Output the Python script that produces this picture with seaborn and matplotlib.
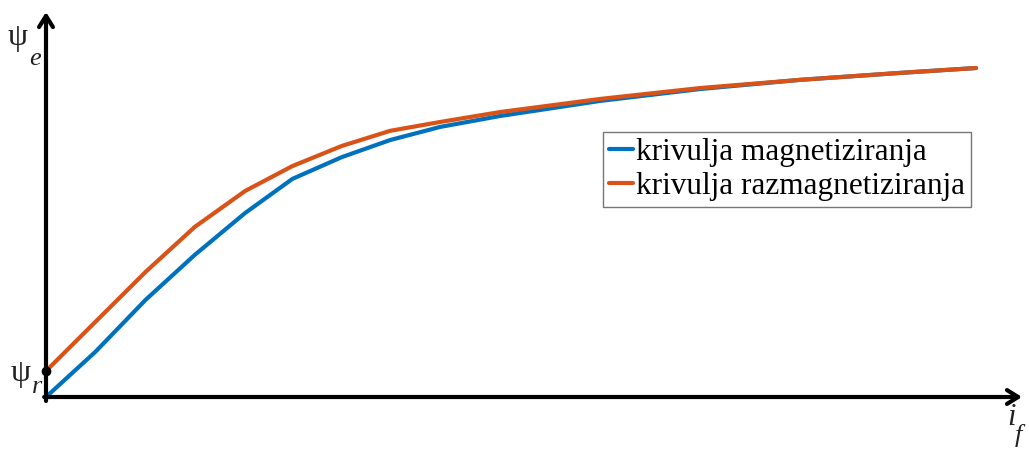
import matplotlib
matplotlib.use("Agg")
import matplotlib.pyplot as plt
import seaborn as sns
import pandas as pd

# data (arbitrary units)
i_f = [0, 0.53, 1.07, 1.6, 2.14, 2.65, 3.18, 3.7, 4.24, 4.88, 5.96, 7.03, 8.11, 9.18, 10.0]
psi_mag = [0, 0.137, 0.295, 0.432, 0.559, 0.663, 0.729, 0.781, 0.821, 0.854, 0.900, 0.936, 0.964, 0.985, 1.0]
psi_razmag = [0.079, 0.228, 0.380, 0.517, 0.626, 0.702, 0.763, 0.809, 0.836, 0.866, 0.906, 0.939, 0.964, 0.985, 1.0]
series_names = ["krivulja magnetiziranja", "krivulja razmagnetiziranja"]
colors = ["#0072BD", "#D95319"]

sns.set_style("white")
plt.rcParams['font.family'] = ['Liberation Serif', 'DejaVu Serif']
plt.rcParams['text.color'] = 'black'

df = pd.concat([
    pd.DataFrame({"i_f": i_f, "psi": psi_mag, "krivulja": series_names[0]}),
    pd.DataFrame({"i_f": i_f, "psi": psi_razmag, "krivulja": series_names[1]}),
])

W, H = 1029, 449
fig = plt.figure(figsize=(W / 100, H / 100), dpi=100)
ox, oy = 46, 397
ax = fig.add_axes([ox / W, (H - oy) / H, (1022 - ox) / W, (oy - 12) / H])
xmax = (1022 - ox) / 93.0
ymax = (oy - 12) / 329.0
ax.set_xlim(0, xmax)
ax.set_ylim(0, ymax)

sns.lineplot(data=df, x="i_f", y="psi", hue="krivulja", palette=colors,
             linewidth=3.0, ax=ax, sort=False, zorder=3)

for s in ax.spines.values():
    s.set_visible(False)
ax.set_xticks([])
ax.set_yticks([])
ax.set_xlabel("")
ax.set_ylabel("")

# axes arrows
arrow = dict(arrowstyle="->,head_length=0.8,head_width=0.5", lw=3.0, color="black",
             shrinkA=0, shrinkB=0)
ax.annotate("", xy=(xmax, 0), xytext=(-0.02, 0), arrowprops=arrow, annotation_clip=False)
ax.annotate("", xy=(0, ymax), xytext=(0, -0.012), arrowprops=arrow, annotation_clip=False)

ax.plot([0], [psi_razmag[0]], "o", color="black", ms=6, zorder=5, clip_on=False)

# labels
fig.text(8 / W, 1 - 45 / H, "ψ", fontsize=23, ha="left", va="baseline", color="#222222")
fig.text(29 / W, 1 - 65 / H, "e", fontsize=19, style="italic", ha="left", va="baseline", color="#222222")
fig.text(11 / W, 1 - 381 / H, "ψ", fontsize=23, ha="left", va="baseline", color="#222222")
fig.text(32 / W, 1 - 393 / H, "r", fontsize=19, style="italic", ha="left", va="baseline", color="#222222")
fig.text(1007 / W, 1 - 425 / H, "i", fontsize=22, style="italic", ha="left", va="baseline", color="#222222")
fig.text(1015 / W, 1 - 442 / H, "f", fontsize=19, style="italic", ha="left", va="baseline", color="#222222")

leg = ax.legend(loc="upper left", bbox_to_anchor=((603 - ox) / (1022 - ox), 1 - (132 - 12) / (oy - 12)),
                fontsize=22.5, frameon=True, fancybox=False, handlelength=0.75, handletextpad=0.1,
                borderpad=0.2, labelspacing=0.15, borderaxespad=0, title=None)
leg.get_frame().set_edgecolor("#555555")
leg.get_frame().set_linewidth(1.0)
for ln in leg.get_lines():
    ln.set_linewidth(3.0)
for t in leg.get_texts():
    t.set_color("black")

fig.savefig("out.png", dpi=100)
